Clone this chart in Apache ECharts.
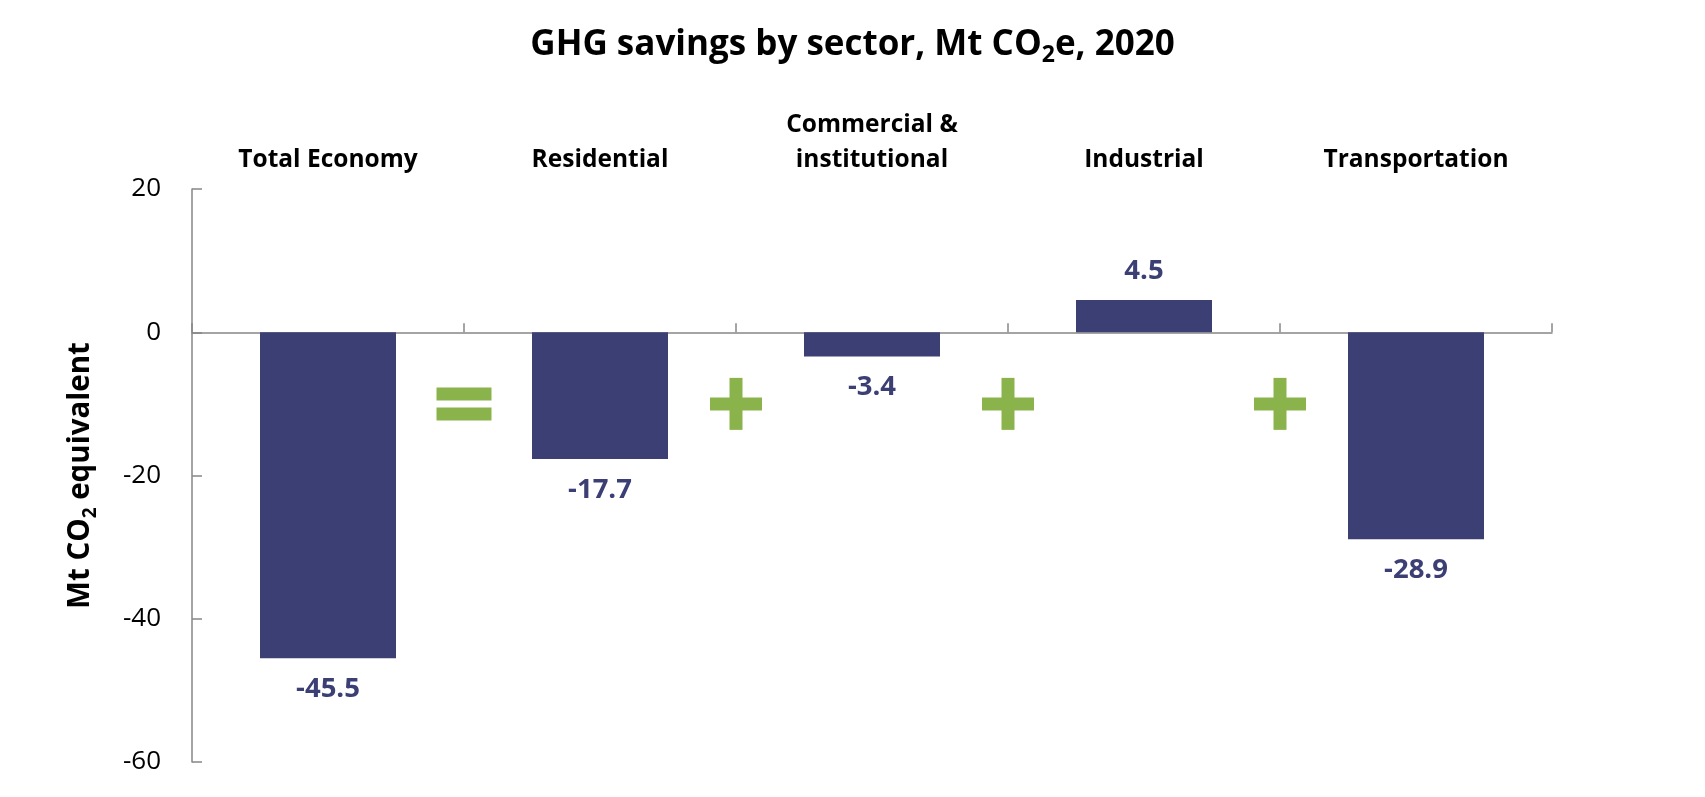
<!DOCTYPE html>
<html>
<head>
<meta charset="utf-8">
<title>GHG savings by sector</title>
<script src="https://cdn.jsdelivr.net/npm/echarts@6/dist/echarts.min.js"></script>
<style>
  html, body { margin: 0; padding: 0; background: #fff; }
  #chart { width: 1705px; height: 797px; }
</style>
</head>
<body>
<div id="chart"></div>
<script>
var sectors = ['Total Economy', 'Residential', 'Commercial &\ninstitutional', 'Industrial', 'Transportation'];
var savings = [-45.5, -17.7, -3.4, 4.5, -28.9];
var yTicks = { min: -60, max: 20, interval: 20 };
// signs drawn between the bars: "=" after the total, "+" between sectors
var operators = ['=', '+', '+', '+'];
var OP_LEVEL = -10;

var FONT = '"Open Sans", Lato, sans-serif';
var BAR = '#3c3f74';
var GREEN = '#8ab34b';
var AXIS = '#868686';

var myChart = echarts.init(document.getElementById('chart'));

myChart.setOption({
  animation: false,
  title: {
    text: '{a|GHG savings by sector, Mt CO}{s|2}{a|e, 2020}',
    left: 'center',
    top: 18,
    textStyle: {
      rich: {
        a: { fontFamily: FONT, fontWeight: 'bold', fontSize: 35, color: '#000', lineHeight: 44 },
        s: { fontFamily: FONT, fontWeight: 'bold', fontSize: 23, color: '#000', lineHeight: 22, verticalAlign: 'bottom' }
      }
    }
  },
  grid: { left: 192, right: 153, top: 189, bottom: 35, containLabel: false },
  xAxis: [
    {
      type: 'category',
      data: sectors,
      axisLine: { onZero: true, lineStyle: { color: AXIS, width: 1.5 } },
      axisTick: { show: true, inside: true, length: 9, lineStyle: { color: AXIS, width: 1.5 } },
      axisLabel: { show: false }
    },
    {
      type: 'category',
      data: sectors,
      position: 'top',
      axisLine: { show: false, onZero: false },
      axisTick: { show: false },
      axisLabel: {
        margin: 11,
        fontFamily: FONT,
        fontWeight: 'bold',
        fontSize: 24.5,
        lineHeight: 35,
        color: '#000'
      }
    }
  ],
  yAxis: {
    type: 'value',
    min: yTicks.min,
    max: yTicks.max,
    interval: yTicks.interval,
    name: '{a|Mt CO}{s|2}{a| equivalent}',
    nameLocation: 'middle',
    nameGap: 92,
    nameTextStyle: {
      rich: {
        a: { fontFamily: FONT, fontWeight: 'bold', fontSize: 29.5, color: '#000', lineHeight: 38 },
        s: { fontFamily: FONT, fontWeight: 'bold', fontSize: 19, color: '#000', lineHeight: 19, verticalAlign: 'bottom' }
      }
    },
    splitLine: { show: false },
    axisLine: { show: true, lineStyle: { color: AXIS, width: 1.5 } },
    axisTick: { show: true, inside: true, length: 10, lineStyle: { color: AXIS, width: 1.5 } },
    axisLabel: { margin: 31, fontFamily: FONT, fontSize: 26, color: '#000' }
  },
  series: [
    {
      type: 'bar',
      barWidth: '50%',
      itemStyle: { color: BAR },
      data: savings.map(function (v) {
        return {
          value: v,
          label: {
            show: true,
            position: v >= 0 ? 'top' : 'bottom',
            distance: v >= 0 ? 15 : 17,
            fontFamily: FONT,
            fontWeight: 'bold',
            fontSize: 27.5,
            color: BAR
          }
        };
      })
    },
    {
      type: 'custom',
      silent: true,
      z: 5,
      data: operators.map(function (op, i) { return [i + 1, OP_LEVEL, op]; }),
      renderItem: function (params, api) {
        var pt = api.coord([api.value(0), api.value(1)]);
        var band = api.size([1, 0])[0];
        var cx = pt[0] - band / 2;
        var cy = pt[1];
        var op = operators[params.dataIndex];
        var t = 13;
        var kids;
        if (op === '=') {
          var w = 55, gap = 7;
          kids = [
            { type: 'rect', shape: { x: cx - w / 2, y: cy - gap / 2 - t, width: w, height: t }, style: { fill: GREEN } },
            { type: 'rect', shape: { x: cx - w / 2, y: cy + gap / 2, width: w, height: t }, style: { fill: GREEN } }
          ];
        } else {
          var s = 52;
          kids = [
            { type: 'rect', shape: { x: cx - s / 2, y: cy - t / 2, width: s, height: t }, style: { fill: GREEN } },
            { type: 'rect', shape: { x: cx - t / 2, y: cy - s / 2, width: t, height: s }, style: { fill: GREEN } }
          ];
        }
        return { type: 'group', children: kids };
      }
    }
  ]
});
</script>
</body>
</html>
